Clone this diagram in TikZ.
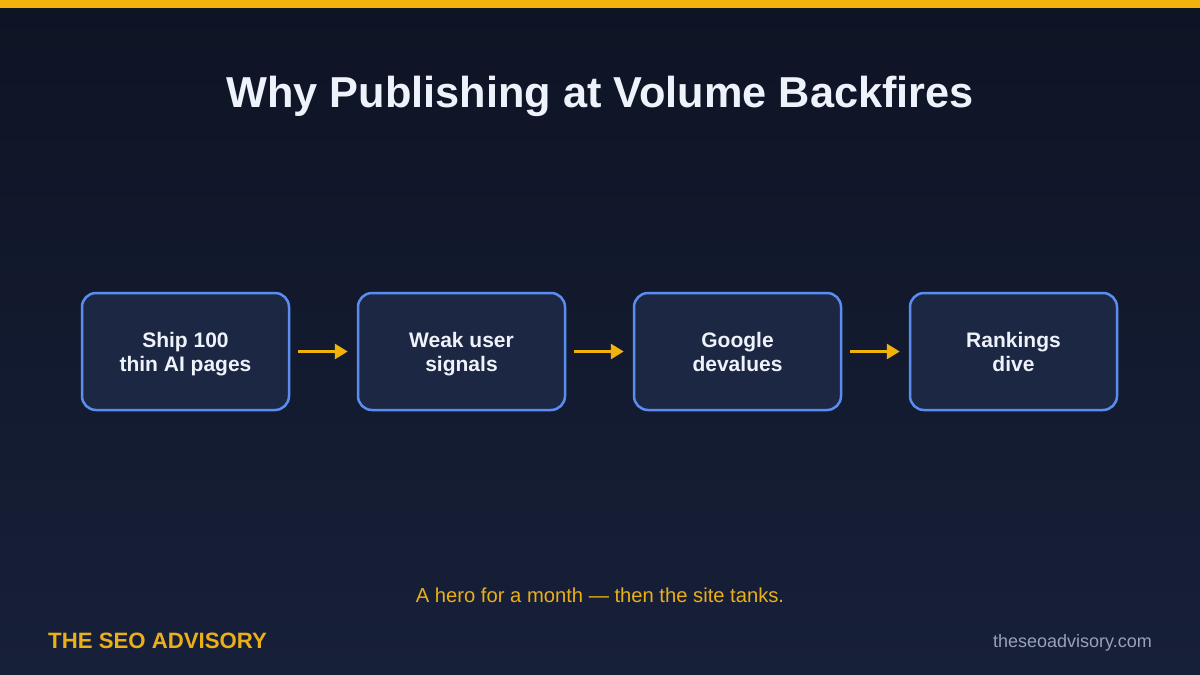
\documentclass[tikz,border=0pt]{standalone}
\usepackage{fontspec}
\setmainfont{Liberation Sans}
\usetikzlibrary{arrows.meta}
\definecolor{bgtop}{HTML}{0E1424}
\definecolor{bgbot}{HTML}{172039}
\definecolor{barY}{HTML}{F2B20C}
\definecolor{boxfill}{HTML}{1C2744}
\definecolor{boxline}{HTML}{5B8DEF}
\definecolor{titlecol}{HTML}{EEF2FA}
\definecolor{capcol}{HTML}{EBAF17}
\definecolor{urlcol}{HTML}{98A2B6}
\newcommand\mytopstrut{\rule{0pt}{19.5pt}}
\newcommand\mybotstrut{\rule[-4.5pt]{0pt}{4.5pt}}
\tikzset{
  stepbox/.style={draw=boxline, line width=2.5pt, fill=boxfill, rounded corners=14pt,
    minimum width=207pt, minimum height=117pt, align=center, text=titlecol,
    font=\fontsize{21}{24}\selectfont\bfseries, inner sep=0pt},
  flowarrow/.style={draw=barY, line width=3pt, -{Triangle[length=13pt,width=15pt]},
    shorten <=8pt, shorten >=9pt}
}
\begin{document}
\begin{tikzpicture}[x=1pt,y=-1pt]
\useasboundingbox (0,0) rectangle (1200,675);
\shade[top color=bgtop, bottom color=bgbot] (0,0) rectangle (1200,675);
\fill[barY] (0,0) rectangle (1200,8);
\node[text=titlecol, font=\fontsize{43.3}{48}\selectfont\bfseries] (title) at (600,96) {Why Publishing at Volume Backfires};
\node[stepbox] (b1) at (185.5,351.5) {\mytopstrut Ship 100\\thin AI pages\mybotstrut};
\node[stepbox] (b2) at (461.5,351.5) {\mytopstrut Weak user\\signals\mybotstrut};
\node[stepbox] (b3) at (737.5,351.5) {\mytopstrut Google\\devalues\mybotstrut};
\node[stepbox] (b4) at (1013.5,351.5) {\mytopstrut Rankings\\dive\mybotstrut};
\draw[flowarrow] (b1.east) -- (b2.west);
\draw[flowarrow] (b2.east) -- (b3.west);
\draw[flowarrow] (b3.east) -- (b4.west);
\node[text=capcol, font=\fontsize{20.2}{24}\selectfont] (cap) at (600,595) {A hero for a month — then the site tanks.};
\node[text=capcol, font=\fontsize{22.2}{26}\selectfont\bfseries, anchor=west, inner sep=0pt] (brand) at (48,641) {THE SEO ADVISORY};
\node[text=urlcol, font=\fontsize{18}{22}\selectfont, anchor=east, inner sep=0pt] (url) at (1152,643) {theseoadvisory.com};
\end{tikzpicture}
\end{document}
